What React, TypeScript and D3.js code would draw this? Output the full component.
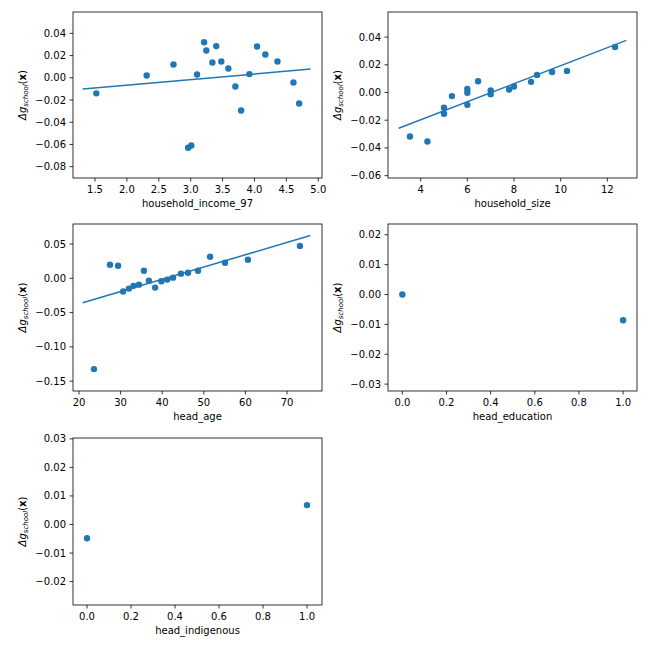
import { scaleLinear, line, format } from "d3";

// household_income_97
const incomeX = [1.52, 2.31, 2.73, 2.96, 3.01, 3.10, 3.21, 3.245, 3.34, 3.40, 3.48, 3.59, 3.70, 3.79, 3.92, 4.04, 4.17, 4.36, 4.61, 4.70];
const incomeY = [-0.014, 0.002, 0.012, -0.063, -0.061, 0.003, 0.032, 0.0246, 0.0138, 0.0285, 0.0147, 0.0084, -0.0078, -0.0294, 0.0033, 0.0282, 0.021, 0.0147, -0.0042, -0.0231];
const incomeFit: [number, number][] = [[1.307, -0.0102], [4.88, 0.0078]];

// household_size
const sizeX = [3.54, 4.29, 5, 5, 5.34, 6, 6, 6, 6.46, 7, 7, 7.79, 8.0, 8.73, 8.99, 9.63, 10.27, 12.33];
const sizeY = [-0.0318, -0.0354, -0.011, -0.0153, -0.0026, 0.0026, -0.0002, -0.0089, 0.0081, 0.0014, -0.0012, 0.0022, 0.0043, 0.0077, 0.0127, 0.0148, 0.0156, 0.0328];
const sizeFit: [number, number][] = [[3.06, -0.0258], [12.81, 0.0376]];

// head_age
const ageX = [23.6, 27.45, 29.4, 30.6, 32.0, 33.1, 34.4, 35.6, 36.8, 38.3, 39.8, 41.2, 42.6, 44.5, 46.2, 48.6, 51.5, 55.1, 60.6, 73.1];
const ageY = [-0.1324, 0.0198, 0.0184, -0.0193, -0.015, -0.011, -0.0092, 0.0111, -0.0034, -0.0135, -0.0043, -0.0019, 0.001, 0.0068, 0.0082, 0.0111, 0.0314, 0.0227, 0.0271, 0.0473];
const ageFit: [number, number][] = [[20.88, -0.0357], [75.6, 0.0623]];

// head_education
const eduX = [0, 1];
const eduY = [0.0, -0.0086];

// head_indigenous
const indX = [0, 1];
const indY = [-0.0048, 0.0068];

const incomeXTicks = [1.5, 2.0, 2.5, 3.0, 3.5, 4.0, 4.5, 5.0];
const incomeYTicks = [-0.08, -0.06, -0.04, -0.02, 0.0, 0.02, 0.04];
const sizeXTicks = [4, 6, 8, 10, 12];
const sizeYTicks = [-0.06, -0.04, -0.02, 0.0, 0.02, 0.04];
const ageXTicks = [20, 30, 40, 50, 60, 70];
const ageYTicks = [-0.15, -0.1, -0.05, 0.0, 0.05];
const binaryXTicks = [0.0, 0.2, 0.4, 0.6, 0.8, 1.0];
const eduYTicks = [-0.03, -0.02, -0.01, 0.0, 0.01, 0.02];
const indYTicks = [-0.02, -0.01, 0.0, 0.01, 0.02, 0.03];

const BLUE = "#1f77b4";
const FONT = "DejaVu Sans, sans-serif";

interface PanelProps {
    left: number;
    top: number;
    width: number;
    height: number;
    xDomain: [number, number];
    yDomain: [number, number];
    xs: number[];
    ys: number[];
    fit?: [number, number][];
    xTicks: number[];
    yTicks: number[];
    xFmt: string;
    yFmt: string;
    xLabel: string;
}

function Panel(p: PanelProps) {
    const x = scaleLinear().domain(p.xDomain).range([0, p.width]);
    const y = scaleLinear().domain(p.yDomain).range([p.height, 0]);
    const fx = format(p.xFmt);
    const fy = format(p.yFmt);
    const path = line<[number, number]>()
        .x((d) => x(d[0]))
        .y((d) => y(d[1]));

    return (
        <g transform={`translate(${p.left}, ${p.top})`} fontFamily={FONT} fontSize={10}>
            {p.fit && <path d={path(p.fit) ?? ""} fill="none" stroke={BLUE} strokeWidth={1.5} />}
            {p.xs.map((v, i) => (
                <circle key={i} cx={x(v)} cy={y(p.ys[i])} r={3.2} fill={BLUE} />
            ))}
            <rect width={p.width} height={p.height} fill="none" stroke="black" strokeWidth={0.8} />
            {p.xTicks.map((t) => (
                <g key={`x${t}`} transform={`translate(${x(t)}, ${p.height})`}>
                    <line y2={3.5} stroke="black" strokeWidth={0.8} />
                    <text y={15} textAnchor="middle">{fx(t)}</text>
                </g>
            ))}
            {p.yTicks.map((t) => (
                <g key={`y${t}`} transform={`translate(0, ${y(t)})`}>
                    <line x2={-3.5} stroke="black" strokeWidth={0.8} />
                    <text x={-7} dy="0.35em" textAnchor="end">{fy(t)}</text>
                </g>
            ))}
            <text x={p.width / 2} y={p.height + 29} textAnchor="middle">{p.xLabel}</text>
            <text
                transform={`translate(-47, ${p.height / 2}) rotate(-90)`}
                textAnchor="middle"
            >
                <tspan fontStyle="italic">Δg</tspan>
                <tspan fontStyle="italic" fontSize={7} dy={2}>school</tspan>
                <tspan dy={-2}>(</tspan>
                <tspan fontWeight="bold">x</tspan>
                <tspan>)</tspan>
            </text>
        </g>
    );
}

export default function App() {
    return (
        <svg
            width={648}
            height={648}
            style={{ position: "absolute", left: 0, top: 0, background: "white" }}
        >
            <Panel
                left={73} top={12} width={249} height={166}
                xDomain={[1.155, 5.058]} yDomain={[-0.0902, 0.0592]}
                xs={incomeX} ys={incomeY} fit={incomeFit}
                xTicks={incomeXTicks} yTicks={incomeYTicks}
                xFmt=".1f" yFmt=".2f" xLabel="household_income_97"
            />
            <Panel
                left={388} top={12} width={249} height={166}
                xDomain={[2.6, 13.27]} yDomain={[-0.0617, 0.0581]}
                xs={sizeX} ys={sizeY} fit={sizeFit}
                xTicks={sizeXTicks} yTicks={sizeYTicks}
                xFmt="d" yFmt=".2f" xLabel="household_size"
            />
            <Panel
                left={73} top={224} width={249} height={167}
                xDomain={[18.56, 78.4]} yDomain={[-0.1643, 0.0792]}
                xs={ageX} ys={ageY} fit={ageFit}
                xTicks={ageXTicks} yTicks={ageYTicks}
                xFmt="d" yFmt=".2f" xLabel="head_age"
            />
            <Panel
                left={388} top={224} width={249} height={167}
                xDomain={[-0.065, 1.063]} yDomain={[-0.0323, 0.0236]}
                xs={eduX} ys={eduY}
                xTicks={binaryXTicks} yTicks={eduYTicks}
                xFmt=".1f" yFmt=".2f" xLabel="head_education"
            />
            <Panel
                left={73} top={438} width={249} height={167}
                xDomain={[-0.0636, 1.068]} yDomain={[-0.0282, 0.0303]}
                xs={indX} ys={indY}
                xTicks={binaryXTicks} yTicks={indYTicks}
                xFmt=".1f" yFmt=".2f" xLabel="head_indigenous"
            />
        </svg>
    );
}
